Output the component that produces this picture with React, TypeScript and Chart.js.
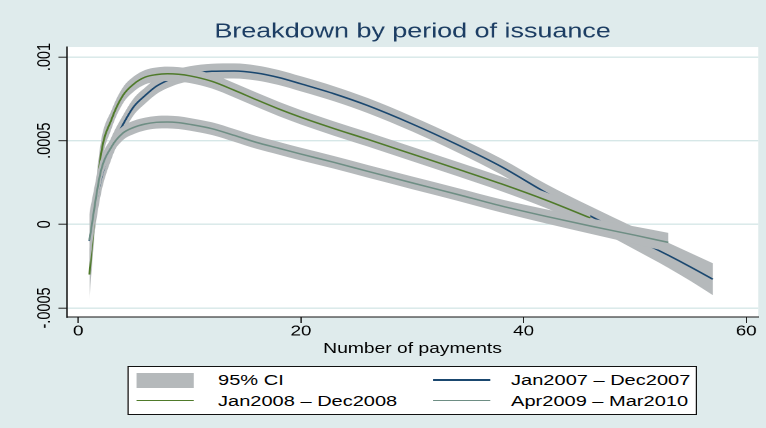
import React, { useEffect, useRef } from "react";
import { Chart, registerables } from "chart.js";

Chart.register(...registerables);

// ---------------- data ----------------
const TITLE = "Breakdown by period of issuance";
const X_TITLE = "Number of payments";
const X_TICKS = [0, 20, 40, 60];
const X_TICK_LABELS = ["0", "20", "40", "60"];
const Y_TICKS = [-0.0005, 0, 0.0005, 0.001];
const Y_TICK_LABELS = ["-.0005", "0", ".0005", ".001"];
const CI_LABEL = "95% CI";
const SERIES_NAMES = ["Jan2007 \u2013 Dec2007", "Jan2008 \u2013 Dec2008", "Apr2009 \u2013 Mar2010"];

// Jan2007 - Dec2007
const x2007 = [1, 2, 3, 4, 5, 6, 7, 8, 9, 10, 12, 14, 16, 18, 20, 23, 26, 30, 34, 38, 42, 46, 50, 53, 55, 57];
const y2007 = [
  -0.0001, 0.00026, 0.00046, 0.000595, 0.000705, 0.00077, 0.000825, 0.00086, 0.000885, 0.0009,
  0.000915, 0.000917, 0.000905, 0.000878, 0.00084, 0.00078, 0.00071, 0.0006, 0.000478, 0.000345,
  0.00019, 0.00005, -0.000085, -0.000185, -0.000255, -0.000328,
];
const ci2007 = [
  0.00016, 0.00009, 0.000065, 0.000055, 0.00005, 0.000048, 0.000047, 0.000046, 0.000045, 0.000045,
  0.000045, 0.000045, 0.000045, 0.000045, 0.000045, 0.000045, 0.000045, 0.000045, 0.000046, 0.000048,
  0.000052, 0.000058, 0.000066, 0.000075, 0.000084, 0.000095,
];

// Jan2008 - Dec2008
const x2008 = [1, 2, 3, 4, 5, 6, 7, 8, 9, 10, 12, 14, 16, 18, 20, 23, 26, 30, 34, 38, 42, 46];
const y2008 = [
  -0.0003, 0.0004, 0.00063, 0.00077, 0.00084, 0.00088, 0.000895, 0.0009, 0.000897, 0.000888,
  0.000855, 0.000802, 0.000745, 0.00069, 0.00064, 0.000572, 0.000508, 0.00042, 0.000332, 0.000242,
  0.000145, 0.000038,
];
const ci2008 = [
  0.00015, 0.00008, 0.000055, 0.000048, 0.000045, 0.000043, 0.000043, 0.000043, 0.000043, 0.000043,
  0.000043, 0.000043, 0.000043, 0.000043, 0.000043, 0.000043, 0.000043, 0.000043, 0.000043, 0.000044,
  0.000047, 0.000052,
];

// Apr2009 - Mar2010
const x2009 = [1, 2, 3, 4, 5, 6, 7, 8, 9, 10, 12, 14, 16, 18, 20, 23, 26, 30, 34, 38, 42, 46, 50, 53];
const y2009 = [
  -0.000095, 0.00031, 0.000465, 0.000545, 0.00058, 0.0006, 0.00061, 0.000612, 0.000608, 0.000598,
  0.000572, 0.000532, 0.00049, 0.000455, 0.00042, 0.00037, 0.000317, 0.000248, 0.00018, 0.00011,
  0.000048, -0.00001, -0.000065, -0.000108,
];
const ci2009 = [
  0.000165, 0.000075, 0.00005, 0.000042, 0.00004, 0.000038, 0.000038, 0.000038, 0.000038, 0.000038,
  0.000038, 0.000038, 0.000038, 0.000038, 0.000038, 0.000038, 0.000038, 0.000038, 0.000038, 0.000039,
  0.000042, 0.000046, 0.000052, 0.000057,
];

// ---------------- style ----------------
const FULL_W = 766;
const FULL_H = 428;
const W = 589; // unstretched drawing width (Stata 5.5x4 aspect, stretched horizontally)
const H = 428;
const SX = FULL_W / W;
const FONT = '"Liberation Sans", Arial, Helvetica, sans-serif';
const BG = "#DFEBEC";
const CI_COLOR = "#B5B9BB";
const NAVY = "#1A476F";
const GREEN = "#4F7A2A";
const TEAL = "#6E8E84";
const TITLE_COLOR = "#1C3D63";
const GRID = "#D6E7E7";

const Y_MIN = -0.000554;
const Y_MAX = 0.00106;
const X_MIN = -1.04;
const X_MAX = 61.09;

const pts = (xs: number[], ys: number[], d: number[] | null, sign: number) =>
  xs.map((x, i) => ({ x, y: ys[i] + (d ? sign * d[i] : 0) }));

const bandSets = (xs: number[], ys: number[], ci: number[], order: number) => [
  {
    data: pts(xs, ys, ci, 1),
    borderWidth: 0,
    borderColor: "rgba(0,0,0,0)",
    pointRadius: 0,
    fill: false,
    cubicInterpolationMode: "monotone",
    order,
  },
  {
    data: pts(xs, ys, ci, -1),
    borderWidth: 0,
    borderColor: "rgba(0,0,0,0)",
    backgroundColor: CI_COLOR,
    pointRadius: 0,
    fill: "-1",
    cubicInterpolationMode: "monotone",
    order,
  },
];

const lineSet = (xs: number[], ys: number[], color: string, order: number) => ({
  data: pts(xs, ys, null, 0),
  borderColor: color,
  borderWidth: 1.5,
  pointRadius: 0,
  fill: false,
  cubicInterpolationMode: "monotone",
  order,
});

const plotBg = {
  id: "plotBg",
  beforeDraw(chart: any) {
    const { ctx, chartArea: a } = chart;
    ctx.save();
    ctx.fillStyle = "#FFFFFF";
    ctx.fillRect(a.left, a.top, a.right - a.left, a.bottom - a.top);
    ctx.restore();
  },
};

// legend layout (unstretched px)
const LEG = { left: 98.4, top: 366, width: 437.6, height: 49 };
const ROWS = [380, 400.5];
const COLS = [
  { sym: 104.8, text: 167.7 },
  { sym: 332.5, text: 393 },
];
const SYM_W = 44;
const LEGEND_ITEMS = [
  { label: CI_LABEL, kind: "box", color: CI_COLOR },
  { label: SERIES_NAMES[0], kind: "line", color: NAVY },
  { label: SERIES_NAMES[1], kind: "line", color: GREEN },
  { label: SERIES_NAMES[2], kind: "line", color: TEAL },
];

export default function App() {
  const ref = useRef<HTMLCanvasElement>(null);

  useEffect(() => {
    const canvas = ref.current;
    if (!canvas) return;
    Chart.defaults.font.family = FONT;
    Chart.defaults.color = "#000";
    const chart = new Chart(canvas, {
      type: "line",
      data: {
        datasets: [
          ...bandSets(x2007, y2007, ci2007, 60),
          lineSet(x2007, y2007, NAVY, 50),
          ...bandSets(x2008, y2008, ci2008, 40),
          lineSet(x2008, y2008, GREEN, 30),
          ...bandSets(x2009, y2009, ci2009, 20),
          lineSet(x2009, y2009, TEAL, 10),
        ] as any,
      },
      options: {
        animation: false,
        responsive: false,
        devicePixelRatio: 2,
        events: [],
        layout: { padding: { left: 0, right: W - 583.1, top: 0, bottom: 70 } },
        plugins: {
          legend: { display: false },
          tooltip: { enabled: false },
          title: {
            display: true,
            text: TITLE,
            fullSize: false,
            color: TITLE_COLOR,
            font: { size: 20.7, weight: "normal", family: FONT },
            padding: { top: 19.6, bottom: 2.6 },
          },
        },
        scales: {
          x: {
            type: "linear",
            min: X_MIN,
            max: X_MAX,
            afterBuildTicks: (s: any) => {
              s.ticks = X_TICKS.map((v) => ({ value: v }));
            },
            afterFit: (s: any) => {
              s.height = 41;
            },
            ticks: {
              autoSkip: false,
              maxRotation: 0,
              padding: 0,
              color: "#000",
              font: { size: 14.5 },
              callback: (_v: any, i: number) => X_TICK_LABELS[i],
            },
            grid: {
              drawOnChartArea: false,
              drawTicks: true,
              tickLength: 6,
              tickColor: "#222",
              tickWidth: 1,
            },
            border: { display: true, color: "#111", width: 1 },
            title: {
              display: true,
              text: X_TITLE,
              color: "#000",
              font: { size: 14.8 },
              padding: { top: 0, bottom: 0 },
            },
          },
          y: {
            type: "linear",
            min: Y_MIN,
            max: Y_MAX,
            afterBuildTicks: (s: any) => {
              s.ticks = Y_TICKS.map((v) => ({ value: v }));
            },
            afterFit: (s: any) => {
              s.width = 51.3;
            },
            ticks: {
              autoSkip: false,
              minRotation: 90,
              maxRotation: 90,
              crossAlign: "center",
              padding: -10.1,
              color: "#000",
              font: { size: 14.5 },
              callback: (_v: any, i: number) => Y_TICK_LABELS[i],
            },
            grid: {
              drawOnChartArea: true,
              color: GRID,
              lineWidth: 1.4,
              drawTicks: true,
              tickLength: 6.4,
              tickColor: "#222",
              tickWidth: 1,
            },
            border: { display: true, color: "#111", width: 1 },
          },
        },
      } as any,
      plugins: [plotBg],
    });
    return () => chart.destroy();
  }, []);

  return (
    <div
      style={{
        position: "fixed",
        left: 0,
        top: 0,
        width: FULL_W,
        height: FULL_H,
        background: BG,
        overflow: "hidden",
      }}
    >
      <div
        style={{
          position: "absolute",
          left: 0,
          top: 0,
          width: W,
          height: H,
          transform: `scaleX(${SX})`,
          transformOrigin: "0 0",
        }}
      >
        <canvas ref={ref} width={W} height={H} style={{ display: "block", width: W, height: H }} />
        <div
          style={{
            position: "absolute",
            left: LEG.left,
            top: LEG.top,
            width: LEG.width,
            height: LEG.height,
            boxSizing: "border-box",
            border: "1px solid #111",
            background: "#FFFFFF",
          }}
        />
        {LEGEND_ITEMS.map((it, i) => {
          const row = ROWS[Math.floor(i / 2)];
          const col = COLS[i % 2];
          return (
            <React.Fragment key={i}>
              {it.kind === "box" ? (
                <div
                  style={{
                    position: "absolute",
                    left: col.sym,
                    top: row - 7.5,
                    width: SYM_W,
                    height: 15,
                    background: it.color,
                  }}
                />
              ) : (
                <div
                  style={{
                    position: "absolute",
                    left: col.sym,
                    top: row - 0.75,
                    width: SYM_W,
                    height: 1.5,
                    background: it.color,
                  }}
                />
              )}
              <div
                style={{
                  position: "absolute",
                  left: col.text,
                  top: row - 10,
                  height: 20,
                  lineHeight: "20px",
                  fontFamily: FONT,
                  fontSize: 15.4,
                  color: "#000",
                  whiteSpace: "nowrap",
                }}
              >
                {it.label}
              </div>
            </React.Fragment>
          );
        })}
      </div>
    </div>
  );
}
